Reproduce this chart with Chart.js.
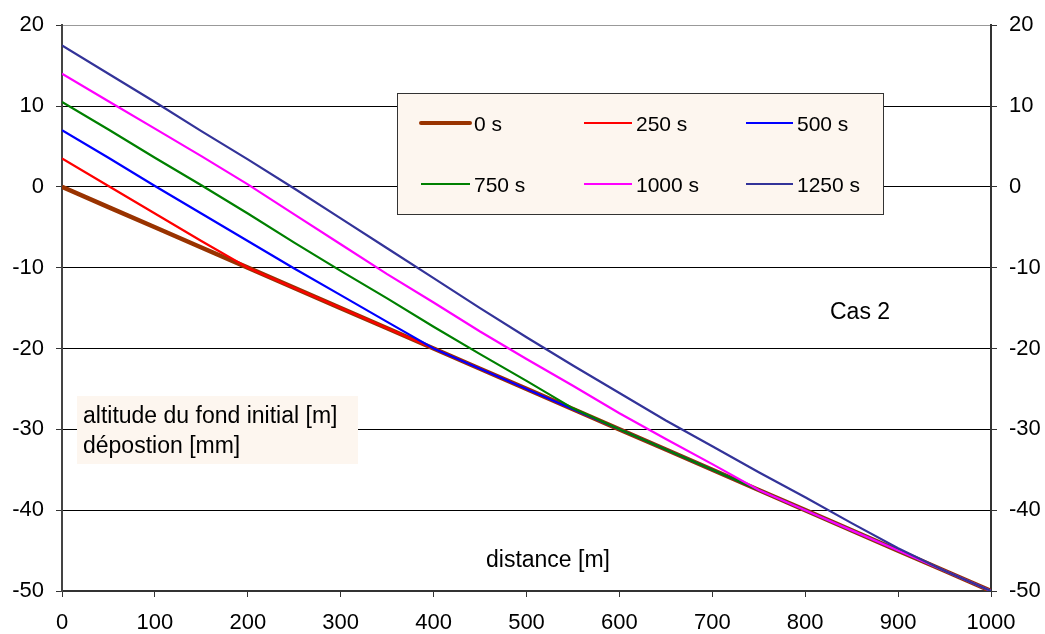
<!DOCTYPE html>
<html>
<head>
<meta charset="utf-8">
<script src="https://cdn.jsdelivr.net/npm/chart.js@4/dist/chart.umd.min.js"></script>
<style>
html,body{margin:0;padding:0;background:#fff;}
canvas{display:block;}
</style>
</head>
<body>
<canvas id="c" width="1045" height="634"></canvas>
<script>
const distances = [0,50,100,150,200,250,300,350,400,450,500,550,600,650,700,750,800,850,900,950,1000];
const s0    = [0,-2.5,-5,-7.5,-10,-12.5,-15,-17.5,-20,-22.5,-25,-27.5,-30,-32.5,-35,-37.5,-40,-42.5,-45,-47.5,-50];
const s250  = [3.5,0.1,-3.3,-6.7,-10,-12.5,-15,-17.5,-20,-22.5,-25,-27.5,-30,-32.5,-35,-37.5,-40,-42.5,-45,-47.5,-50];
const s500  = [7,3.6,0.1,-3.3,-6.7,-10.1,-13.4,-16.7,-20,-22.5,-25,-27.5,-30,-32.5,-35,-37.5,-40,-42.5,-45,-47.5,-50];
const s750  = [10.5,7.1,3.6,0.2,-3.3,-6.9,-10.4,-13.8,-17.3,-20.7,-24.0,-27.4,-30,-32.5,-35,-37.5,-40,-42.5,-45,-47.5,-50];
const s1000 = [14,10.6,7.2,3.8,0.3,-3.4,-7.1,-10.8,-14.3,-17.9,-21.3,-24.6,-28.0,-31.2,-34.3,-37.5,-40,-42.5,-45,-47.5,-50];
const s1250 = [17.5,14.0,10.5,6.9,3.4,-0.2,-3.9,-7.6,-11.3,-15.0,-18.6,-22.1,-25.5,-28.9,-32.1,-35.3,-38.4,-41.6,-44.7,-47.5,-50];
const seriesLabels = ['0 s','250 s','500 s','750 s','1000 s','1250 s'];
const seriesValues = [s0,s250,s500,s750,s1000,s1250];
const seriesColors = ['#993300','#ff0000','#0000ff','#008000','#ff00ff','#333399'];
const seriesWidths = [4.5,2.2,2.2,2.2,2.2,2.2];
const xTicks = {min:0, max:1000, step:100};
const yTicks = {min:-50, max:20, step:10};

const FONT = "'Liberation Sans', Arial, sans-serif";

const datasets = seriesValues.map((vals,i)=>({
  label: seriesLabels[i],
  data: distances.map((d,j)=>({x:d, y:vals[j]})),
  borderColor: seriesColors[i],
  backgroundColor: seriesColors[i],
  borderWidth: seriesWidths[i],
  pointRadius: 0,
  tension: 0,
  fill: false,
  order: seriesValues.length - i
}));

const overlay = {
  id:'overlay',
  afterDatasetsDraw(chart){
    const ctx = chart.ctx;
    ctx.save();
    ctx.fillStyle = '#fdf6ef';
    ctx.fillRect(397,93,486,121);
    ctx.strokeStyle = '#333';
    ctx.lineWidth = 1;
    ctx.strokeRect(397.5,93.5,486,121);
    const colStart=[421,584,746], colEnd=[470,632,793], colText=[474,636,797];
    const rowLine=[123,184], rowText=[131,192];
    ctx.font = '21px ' + FONT;
    ctx.textBaseline = 'alphabetic';
    ctx.textAlign = 'left';
    seriesLabels.forEach((lab,i)=>{
      const c=i%3, r=Math.floor(i/3);
      ctx.strokeStyle = seriesColors[i];
      ctx.lineWidth = i===0?4:2;
      ctx.lineCap = i===0?'round':'butt';
      ctx.beginPath();
      ctx.moveTo(colStart[c],rowLine[r]);
      ctx.lineTo(colEnd[c],rowLine[r]);
      ctx.stroke();
      ctx.fillStyle='#000';
      ctx.fillText(lab,colText[c],rowText[r]);
    });
    ctx.fillStyle = '#fdf6ef';
    ctx.fillRect(77,396,281,68);
    ctx.fillStyle = '#000';
    ctx.font = '23px ' + FONT;
    ctx.fillText('altitude du fond initial [m]',83,423);
    ctx.fillText('dépostion [mm]',83,453);
    ctx.fillText('Cas 2',830,319);
    ctx.fillText('distance [m]',486,567);
    ctx.restore();
  }
};

const yScaleCommon = {
  type:'linear',
  min:yTicks.min, max:yTicks.max,
  ticks:{stepSize:yTicks.step, color:'#000', font:{family:FONT,size:22}, padding:12, callback:(v)=>String(v)},
};

new Chart(document.getElementById('c'),{
  type:'line',
  data:{datasets},
  options:{
    responsive:false,
    animation:false,
    layout:{padding:{top:24,left:0,right:0,bottom:0}},
    plugins:{legend:{display:false},tooltip:{enabled:false}},
    scales:{
      x:{
        type:'linear', min:xTicks.min, max:xTicks.max,
        ticks:{stepSize:xTicks.step, color:'#000', font:{family:FONT,size:22}, padding:13, maxRotation:0, callback:(v)=>String(v)},
        grid:{drawOnChartArea:false, drawTicks:true, tickLength:6, tickColor:'#333', lineWidth:1},
        border:{color:'#333', width:2},
        afterFit(s){ s.height = 43; }
      },
      y:Object.assign({}, yScaleCommon, {
        position:'left',
        grid:{
          color:(c)=> c.tick && c.tick.value===20 ? '#999' : '#000',
          tickColor:'#333', tickLength:6, lineWidth:1
        },
        border:{color:'#444', width:2},
        afterFit(s){ s.width = 62; }
      }),
      y2:Object.assign({}, yScaleCommon, {
        position:'right',
        grid:{drawOnChartArea:false, tickColor:'#333', tickLength:6},
        border:{color:'#333', width:2},
        afterFit(s){ s.width = 54; }
      })
    }
  },
  plugins:[overlay]
});
</script>
</body>
</html>
